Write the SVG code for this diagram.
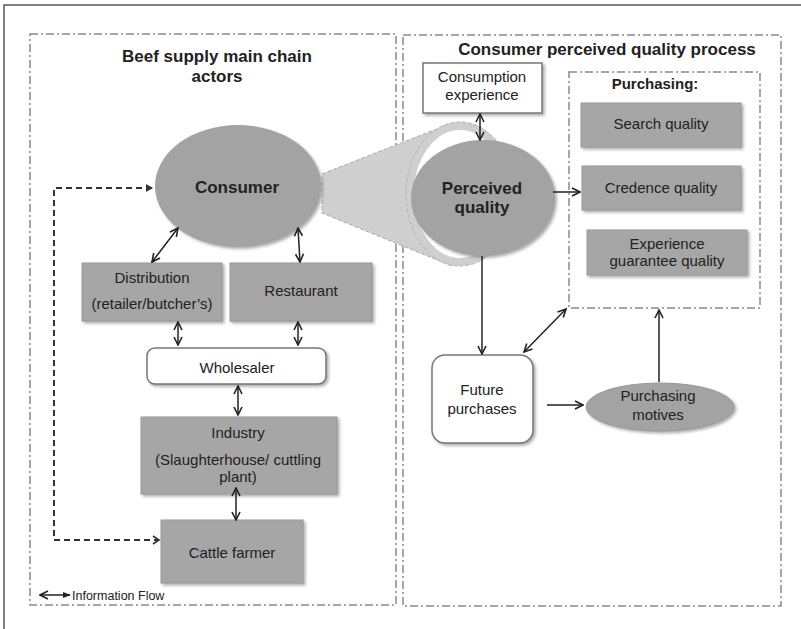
<svg xmlns="http://www.w3.org/2000/svg" width="801" height="629" viewBox="0 0 801 629">
<style>
.t{font-family:"Liberation Sans",Arial,sans-serif;font-size:15px;fill:#222;text-anchor:middle}
.b{font-weight:bold}
.box{fill:#a6a6a6;stroke:#999;stroke-width:1}
.wbox{fill:#fff;stroke:#777;stroke-width:1.5}
.frame{fill:none;stroke:#8a8a8a;stroke-width:1.5;stroke-dasharray:8 3 2 3}
.c{fill:none;stroke:#222;stroke-width:1.5}
.dash{fill:none;stroke:#333;stroke-width:2;stroke-dasharray:6 4}
</style>
<defs>
<marker id="a" viewBox="0 0 10 10" refX="9" refY="5" markerWidth="10" markerHeight="10" markerUnits="userSpaceOnUse" orient="auto-start-reverse">
<path d="M1,1 L9,5 L1,9" fill="none" stroke="#222" stroke-width="1.6"/>
</marker>
<marker id="af" viewBox="0 0 10 10" refX="9" refY="5" markerWidth="8" markerHeight="8" markerUnits="userSpaceOnUse" orient="auto-start-reverse">
<path d="M0,1 L10,5 L0,9 Z" fill="#222"/>
</marker>
<filter id="sh" x="-10%" y="-10%" width="125%" height="130%">
<feDropShadow dx="2" dy="2" stdDeviation="1.5" flood-color="#777" flood-opacity="0.6"/>
</filter>
</defs>

<!-- outer frame lines -->
<path d="M4,629 L4,5 L801,5" fill="none" stroke="#555" stroke-width="1.5"/>

<!-- dashed group frames -->
<rect class="frame" x="30" y="34" width="366" height="571"/>
<rect class="frame" x="403" y="35" width="378" height="571"/>
<rect class="frame" x="569" y="72" width="191" height="236"/>

<text class="t b" x="217" y="62" style="font-size:17px">Beef supply main chain</text>
<text class="t b" x="217" y="82" style="font-size:17px">actors</text>
<text class="t b" x="607" y="55" style="font-size:17px">Consumer perceived quality process</text>
<text class="t b" x="655" y="89" style="font-size:15px">Purchasing:</text>

<!-- zoom callout -->
<g id="callout">
<polygon points="322,174 452,123 452,266 322,213" fill="#cfcfcf" stroke="#aaa" stroke-width="1" stroke-dasharray="4 2"/>
<ellipse cx="460" cy="194" rx="50" ry="68" fill="#fff" stroke="#cfcfcf" stroke-width="8"/>
<ellipse cx="460" cy="194" rx="54" ry="72" fill="none" stroke="#b5b5b5" stroke-width="1" stroke-dasharray="4 2"/>
</g>

<!-- nodes -->
<g id="consumer">
<ellipse cx="238" cy="186" rx="83" ry="61" fill="#a3a3a3" filter="url(#sh)"/>
<text class="t b" x="237" y="193" style="font-size:17px">Consumer</text>
</g>
<g id="distribution">
<rect class="box" x="82" y="263" width="140" height="58" filter="url(#sh)"/>
<text class="t" x="152" y="283">Distribution</text>
<text class="t" x="152" y="309">(retailer/butcher’s)</text>
</g>
<g id="restaurant">
<rect class="box" x="230" y="263" width="142" height="58" filter="url(#sh)"/>
<text class="t" x="301" y="296">Restaurant</text>
</g>
<g id="wholesaler">
<rect class="wbox" x="147" y="348" width="179" height="36" rx="8" filter="url(#sh)"/>
<text class="t" x="237" y="373">Wholesaler</text>
</g>
<g id="industry">
<rect class="box" x="141" y="417" width="196" height="77" filter="url(#sh)"/>
<text class="t" x="238" y="438">Industry</text>
<text class="t" x="238" y="465">(Slaughterhouse/ cuttling</text>
<text class="t" x="238" y="482">plant)</text>
</g>
<g id="cattle">
<rect class="box" x="161" y="520" width="142" height="63" filter="url(#sh)"/>
<text class="t" x="232" y="558">Cattle farmer</text>
</g>
<g id="consumption">
<rect class="wbox" x="423" y="63" width="119" height="50" filter="url(#sh)"/>
<text class="t" x="482" y="82">Consumption</text>
<text class="t" x="482" y="100">experience</text>
</g>
<g id="perceived">
<ellipse cx="483" cy="198" rx="72" ry="58" fill="#a3a3a3" filter="url(#sh)"/>
<text class="t b" x="482" y="194" style="font-size:17px">Perceived</text>
<text class="t b" x="482" y="213" style="font-size:17px">quality</text>
</g>
<g id="search">
<rect class="box" x="581" y="103" width="160" height="44" filter="url(#sh)"/>
<text class="t" x="661" y="129">Search quality</text>
</g>
<g id="credence">
<rect class="box" x="582" y="166" width="159" height="44" filter="url(#sh)"/>
<text class="t" x="661" y="193">Credence quality</text>
</g>
<g id="experience">
<rect class="box" x="587" y="230" width="160" height="45" filter="url(#sh)"/>
<text class="t" x="667" y="249">Experience</text>
<text class="t" x="667" y="266">guarantee quality</text>
</g>
<g id="future">
<rect class="wbox" x="432" y="355" width="101" height="88" rx="13" filter="url(#sh)"/>
<text class="t" x="482" y="395">Future</text>
<text class="t" x="482" y="414">purchases</text>
</g>
<g id="motives">
<ellipse cx="660" cy="407" rx="74" ry="24" fill="#a3a3a3" stroke="#999" stroke-width="1" filter="url(#sh)"/>
<text class="t" x="658" y="401">Purchasing</text>
<text class="t" x="658" y="420">motives</text>
</g>

<!-- connectors -->
<g id="connectors">
<path class="dash" d="M152,188 L54,188 L54,540 L158,540"/>
<path d="M146,184 L153,188 L146,192 Z" fill="#333"/>
<path d="M153,536 L159,540 L153,544" fill="none" stroke="#333" stroke-width="1.6"/>
<line class="c" x1="152" y1="262" x2="178" y2="228" marker-start="url(#a)" marker-end="url(#a)"/>
<line class="c" x1="298" y1="228" x2="300" y2="262" marker-start="url(#a)" marker-end="url(#a)"/>
<line class="c" x1="178" y1="322" x2="178" y2="345" marker-start="url(#a)" marker-end="url(#a)"/>
<line class="c" x1="298" y1="322" x2="298" y2="345" marker-start="url(#a)" marker-end="url(#a)"/>
<line class="c" x1="238" y1="386" x2="238" y2="415" marker-start="url(#a)" marker-end="url(#a)"/>
<line class="c" x1="236" y1="488" x2="236" y2="520" marker-start="url(#a)" marker-end="url(#a)"/>
<line class="c" x1="480" y1="114" x2="480" y2="140" marker-start="url(#a)" marker-end="url(#a)"/>
<line class="c" x1="553" y1="192" x2="580" y2="192" marker-end="url(#a)"/>
<line class="c" x1="482" y1="256" x2="482" y2="354" marker-end="url(#a)"/>
<line class="c" x1="566" y1="309" x2="524" y2="352" marker-start="url(#a)" marker-end="url(#a)"/>
<line class="c" x1="547" y1="405" x2="583" y2="405" marker-end="url(#a)"/>
<line class="c" x1="659" y1="382" x2="659" y2="310" marker-end="url(#a)"/>
<line class="c" x1="40" y1="595" x2="70" y2="595" marker-start="url(#a)" marker-end="url(#af)"/>
</g>
<text class="t" x="72" y="600" style="text-anchor:start;font-size:12.5px">Information Flow</text>
</svg>
